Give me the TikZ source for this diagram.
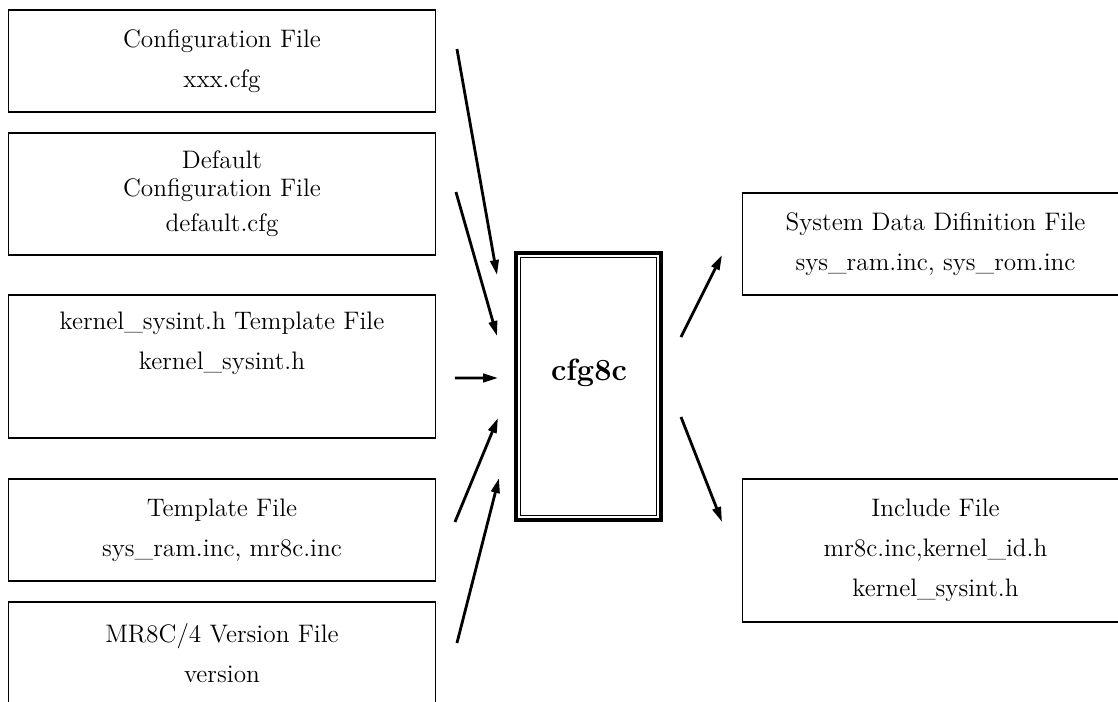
\documentclass[tikz,border=0pt]{standalone}
\usetikzlibrary{arrows.meta}
\begin{document}
\begin{tikzpicture}[x=0.02cm,y=-0.02cm,
    filebox/.style={draw,line width=0.6pt,inner sep=0pt,outer sep=0pt,align=center,
      font=\fontsize{14.4}{22.8}\selectfont,minimum width=8.56cm,minimum height=2.04cm},
    toolbox/.style={draw,line width=2.2pt,inner sep=0pt,outer sep=0pt,
      minimum width=2.9cm,minimum height=5.34cm},
    flow/.style={-{Triangle[length=3mm,width=1.7mm]},line width=1.6pt}]

    % Frame
    \useasboundingbox (0,0) rectangle (1118,702);
    \clip (0,0) rectangle (1118,702);

    % Input files
    \node[filebox] (conf) at (222,61) {Configuration File\\xxx.cfg};
    \node[filebox,minimum height=2.44cm] (dflt) at (222,194)
        {Default\\[-6.8pt]Configuration File\\[-2.8pt]default.cfg};
    \node[filebox,minimum height=2.86cm] (ksys) at (222,366.5)
        {kernel\_sysint.h Template File\\kernel\_sysint.h\\\strut};
    \node[filebox] (tmpl) at (222,530) {Template File\\sys\_ram.inc, mr8c.inc};
    \node[filebox] (ver) at (222,653) {MR8C/4 Version File\\version};

    % Configurator
    \node[toolbox] (cfg) at (588.5,386.5) {};
    \draw[line width=0.6pt] ([shift={(4.5,4.5)}]cfg.north west)
        rectangle ([shift={(-4.5,-4.5)}]cfg.south east);
    \node[font=\fontsize{17.5}{20}\selectfont\bfseries] (cfgname) at (589,373) {cfg8c};

    % Output files
    \node[filebox,minimum width=7.74cm] (sdd) at (935.5,244)
        {System Data Difinition File\\sys\_ram.inc, sys\_rom.inc};
    \node[filebox,minimum width=7.74cm,minimum height=2.86cm] (inc) at (935.5,550.5)
        {Include File\\mr8c.inc,kernel\_id.h\\kernel\_sysint.h};

    % Arrows in
    \draw[flow] ([shift={(21,-12)}]conf.east) -- ([shift={(-19,22)}]cfg.north west);
    \draw[flow] ([shift={(20,-2)}]dflt.east) -- ([shift={(-19,83)}]cfg.north west);
    \draw[flow] ([shift={(19,11.5)}]ksys.east) -- ([shift={(-18,-8.5)}]cfg.west);
    \draw[flow] ([shift={(19,-8)}]tmpl.east) -- ([shift={(-18,31.5)}]cfg.west);
    \draw[flow] ([shift={(21,-10)}]ver.east) -- ([shift={(-17,91.5)}]cfg.west);

    % Arrows out
    \draw[flow] ([shift={(20,-49.5)}]cfg.east) -- ([shift={(-20,11)}]sdd.west);
    \draw[flow] ([shift={(20,30.5)}]cfg.east) -- ([shift={(-20,-28.5)}]inc.west);

\end{tikzpicture}
\end{document}
